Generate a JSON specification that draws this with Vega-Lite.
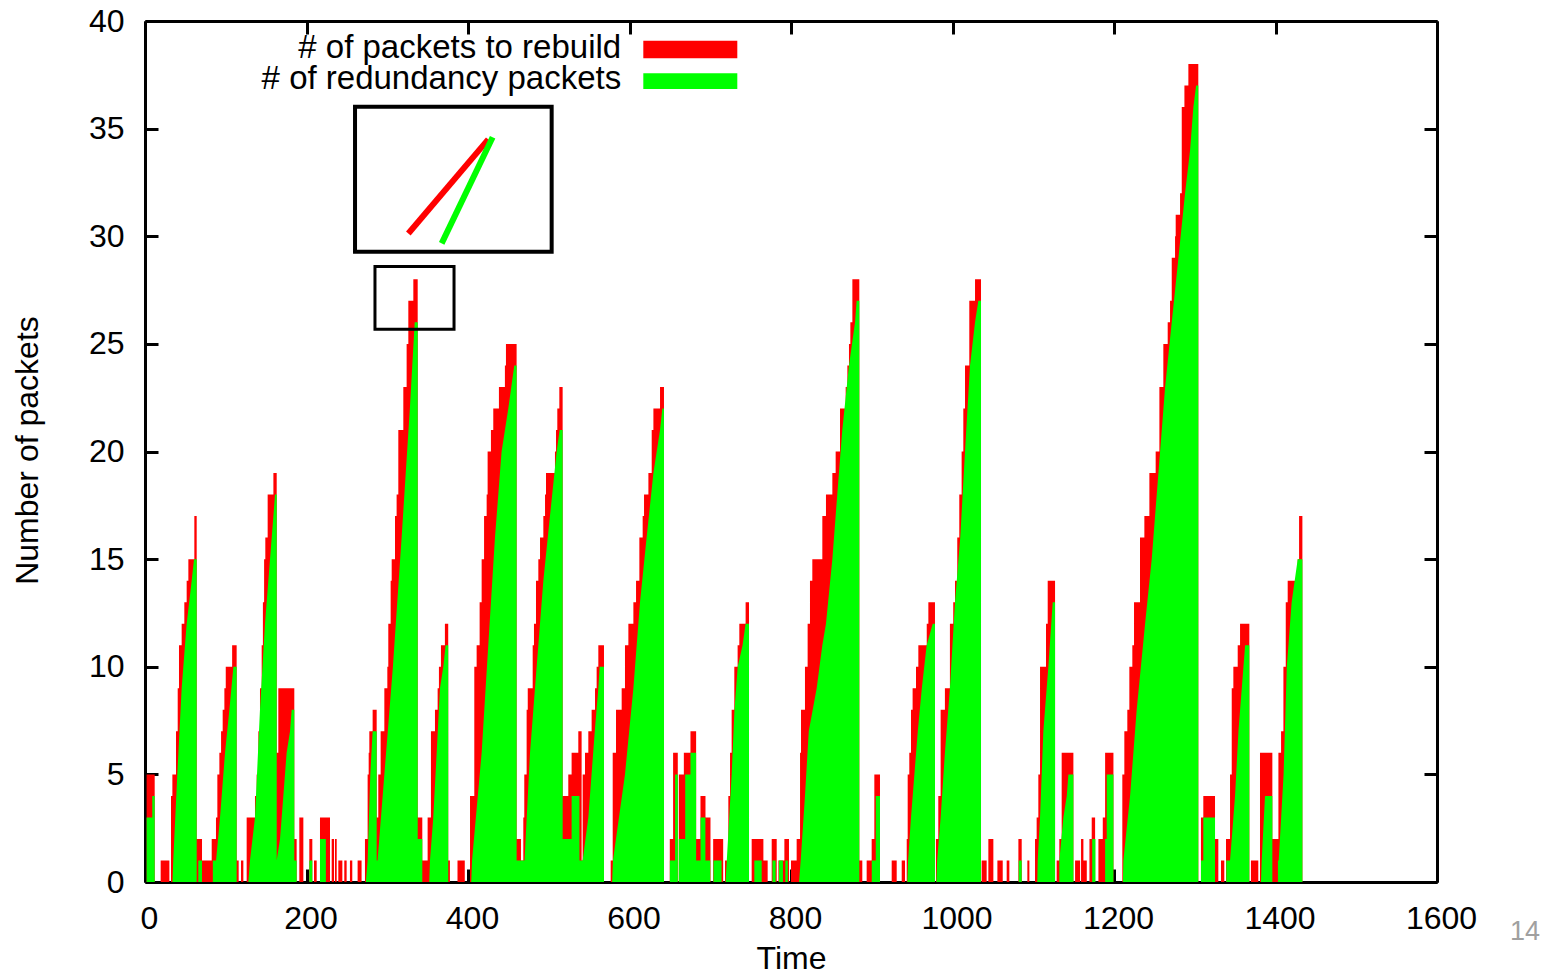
{
  "$schema": "https://vega.github.io/schema/vega-lite/v6.json",
  "width": 1292,
  "height": 861,
  "autosize": "none",
  "padding": {"left": 145, "top": 21, "right": 117, "bottom": 93},
  "background": "white",
  "config": {
    "view": {"stroke": null},
    "font": "Liberation Sans",
    "axis": {"grid": false, "domainColor": "black", "domainWidth": 3, "tickColor": "black", "tickWidth": 3, "tickSize": -13, "zindex": 1, "labelFont": "Liberation Sans", "labelFontSize": 32, "labelColor": "black", "titleFont": "Liberation Sans", "titleFontSize": 32, "titleFontWeight": "normal", "titleColor": "black", "labelFlush": false}
  },
  "datasets": {
    "rebuild": [
      {"t":0,"v":0},{"t":2,"v":5},{"t":12,"v":0},{"t":19.4,"v":1},{"t":30.2,"v":0},
      {"t":32.2,"v":4},{"t":33.9,"v":5},{"t":38.4,"v":7},{"t":40.5,"v":9},{"t":42.1,"v":11},{"t":45.4,"v":12},{"t":48.7,"v":13},{"t":51.6,"v":14},{"t":53.7,"v":15},{"t":61.1,"v":17},
      {"t":64,"v":2},{"t":70.6,"v":1},{"t":82.6,"v":2},
      {"t":87.9,"v":3},{"t":89.6,"v":5},{"t":92.1,"v":6},{"t":94.2,"v":7},{"t":96.2,"v":8},{"t":98.3,"v":9},{"t":100,"v":10},{"t":107.9,"v":11},{"t":113.5,"v":1},{"t":116,"v":0},{"t":118.9,"v":1},{"t":121.8,"v":0},
      {"t":125.9,"v":3},{"t":136.2,"v":4},{"t":138.3,"v":5},{"t":140.4,"v":7},{"t":142.4,"v":9},{"t":144.5,"v":11},{"t":146,"v":13},{"t":147.5,"v":15},{"t":149,"v":16},{"t":151.9,"v":18},{"t":159,"v":19},
      {"t":163.1,"v":6},{"t":165.1,"v":9},{"t":184.9,"v":2},{"t":187.8,"v":0},{"t":191.1,"v":3},{"t":196.1,"v":0},{"t":203.5,"v":2},{"t":207.2,"v":0},{"t":209.3,"v":1},{"t":212.6,"v":0},{"t":216.7,"v":3},{"t":229.1,"v":0},{"t":231.2,"v":2},{"t":234.1,"v":0},{"t":235.3,"v":2},{"t":237.4,"v":0},{"t":239.4,"v":1},{"t":244.4,"v":0},{"t":246.8,"v":1},{"t":249.7,"v":0},{"t":253.8,"v":1},{"t":256.7,"v":0},{"t":263.3,"v":1},{"t":268.2,"v":0},
      {"t":272.4,"v":2},{"t":275.7,"v":5},{"t":277,"v":6},{"t":277.8,"v":7},{"t":281.9,"v":8},
      {"t":286.9,"v":3},{"t":288.9,"v":5},{"t":291.8,"v":7},{"t":296.4,"v":9},{"t":300.1,"v":10},{"t":301.3,"v":12},{"t":304.2,"v":14},{"t":305.5,"v":15},{"t":309.6,"v":17},{"t":311.6,"v":18},{"t":313.7,"v":21},{"t":319.9,"v":23},{"t":324,"v":25},{"t":326.1,"v":27},{"t":332.3,"v":28},{"t":337.7,"v":3},{"t":343.4,"v":1},
      {"t":350,"v":3},{"t":354.1,"v":7},{"t":359.1,"v":8},{"t":362.4,"v":9},{"t":364,"v":10},{"t":366.5,"v":11},{"t":371.4,"v":12},{"t":375.5,"v":1},{"t":377.6,"v":0},{"t":387,"v":1},{"t":396,"v":0},
      {"t":402.5,"v":4},{"t":407.8,"v":10},{"t":410.7,"v":11},{"t":414.4,"v":13},{"t":416.9,"v":15},{"t":419.9,"v":17},{"t":423.1,"v":18},{"t":424.3,"v":20},{"t":428.4,"v":21},{"t":431.3,"v":22},{"t":438.3,"v":23},{"t":445.7,"v":24},{"t":447,"v":25},{"t":460.2,"v":2},{"t":465.6,"v":1},
      {"t":468.5,"v":3},{"t":469.7,"v":5},{"t":472.6,"v":8},{"t":474,"v":9},{"t":480.1,"v":11},{"t":481.7,"v":12},{"t":484.2,"v":14},{"t":487.1,"v":15},{"t":489.2,"v":16},{"t":493.3,"v":17},{"t":495.4,"v":18},{"t":496.6,"v":19},{"t":507.7,"v":20},{"t":509,"v":21},{"t":510.6,"v":22},{"t":513.1,"v":23},{"t":517.2,"v":4},{"t":524.2,"v":5},{"t":528.3,"v":6},{"t":536.6,"v":7},{"t":540.7,"v":1},
      {"t":542,"v":5},{"t":544.9,"v":6},{"t":549,"v":7},{"t":553.1,"v":8},{"t":557.3,"v":9},{"t":559.3,"v":10},{"t":561.4,"v":11},{"t":568.4,"v":0},
      {"t":576.7,"v":1},{"t":579.2,"v":6},{"t":583.3,"v":8},{"t":590.3,"v":9},{"t":594.4,"v":11},{"t":598.6,"v":12},{"t":604.8,"v":13},{"t":608.1,"v":14},{"t":612.2,"v":16},{"t":616.3,"v":17},{"t":618,"v":18},{"t":623.4,"v":19},{"t":627.5,"v":21},{"t":629.6,"v":22},{"t":637.8,"v":23},{"t":642.7,"v":0},
      {"t":649.9,"v":2},{"t":654,"v":6},{"t":659.8,"v":0},{"t":661.1,"v":5},{"t":667.3,"v":6},{"t":675.5,"v":7},{"t":682.5,"v":2},{"t":687.9,"v":4},{"t":694.1,"v":3},{"t":700.3,"v":0},{"t":703.6,"v":2},{"t":716,"v":0},
      {"t":718.3,"v":1},{"t":722.4,"v":4},{"t":724.5,"v":6},{"t":726.5,"v":8},{"t":729.8,"v":10},{"t":733.9,"v":11},{"t":736,"v":12},{"t":743.8,"v":13},{"t":748,"v":0},
      {"t":751.3,"v":2},{"t":765.8,"v":1},{"t":771.1,"v":0},{"t":776.1,"v":2},{"t":782.3,"v":0},{"t":784.4,"v":1},{"t":791.8,"v":2},{"t":797.5,"v":0},{"t":800,"v":1},{"t":807,"v":2},
      {"t":811.2,"v":6},{"t":812.4,"v":8},{"t":817.3,"v":10},{"t":820.6,"v":12},{"t":823.5,"v":14},{"t":826.4,"v":15},{"t":838.8,"v":17},{"t":843.3,"v":18},{"t":851.2,"v":19},{"t":855.3,"v":20},{"t":860.7,"v":22},{"t":867.7,"v":23},{"t":869.8,"v":24},{"t":871.8,"v":25},{"t":873.5,"v":26},{"t":876,"v":28},{"t":884.6,"v":1},{"t":888.3,"v":0},{"t":893.7,"v":1},{"t":899.9,"v":2},{"t":903.2,"v":5},{"t":910.2,"v":0},{"t":924.7,"v":1},{"t":930.9,"v":0},{"t":937.1,"v":1},{"t":941.2,"v":0},
      {"t":943.3,"v":2},{"t":944.5,"v":5},{"t":946.5,"v":6},{"t":948.6,"v":8},{"t":950.6,"v":9},{"t":954.8,"v":10},{"t":957.7,"v":11},{"t":968.1,"v":12},{"t":970.1,"v":13},{"t":978.3,"v":0},
      {"t":979.5,"v":2},{"t":982.4,"v":4},{"t":985.3,"v":8},{"t":990.6,"v":9},{"t":996.8,"v":12},{"t":1000.9,"v":13},{"t":1003.1,"v":14},{"t":1005.9,"v":16},{"t":1008.4,"v":18},{"t":1011.3,"v":20},{"t":1013.4,"v":22},{"t":1015.5,"v":24},{"t":1020.8,"v":27},{"t":1027.9,"v":28},{"t":1035.3,"v":0},{"t":1036.1,"v":1},{"t":1042.3,"v":0},{"t":1044.4,"v":2},{"t":1050.6,"v":0},{"t":1055.6,"v":1},{"t":1062.2,"v":0},{"t":1067.1,"v":1},{"t":1070.4,"v":0},{"t":1081.6,"v":2},{"t":1085.7,"v":0},{"t":1092.7,"v":1},{"t":1095.2,"v":0},{"t":1102.2,"v":2},
      {"t":1104.2,"v":3},{"t":1106.3,"v":5},{"t":1108.4,"v":10},{"t":1115.8,"v":12},{"t":1117.9,"v":14},{"t":1127,"v":0},{"t":1129,"v":1},{"t":1132.3,"v":2},{"t":1135.2,"v":6},{"t":1149.7,"v":0},{"t":1151.8,"v":1},{"t":1158,"v":0},{"t":1159.2,"v":2},{"t":1162.1,"v":1},{"t":1166.3,"v":0},{"t":1169.6,"v":2},{"t":1172.4,"v":3},{"t":1176.6,"v":0},{"t":1180.7,"v":2},{"t":1186.1,"v":3},{"t":1189,"v":6},{"t":1199.3,"v":0},
      {"t":1210.3,"v":5},{"t":1212.8,"v":7},{"t":1216.5,"v":8},{"t":1219,"v":10},{"t":1222.7,"v":11},{"t":1224.8,"v":13},{"t":1232.2,"v":16},{"t":1237.6,"v":17},{"t":1243.8,"v":19},{"t":1251.6,"v":20},{"t":1256.2,"v":23},{"t":1261.1,"v":25},{"t":1266.5,"v":26},{"t":1269.4,"v":27},{"t":1271.5,"v":29},{"t":1275.6,"v":30},{"t":1276.4,"v":31},{"t":1281.8,"v":32},{"t":1283.9,"v":36},{"t":1287.2,"v":37},{"t":1292.1,"v":38},{"t":1304.4,"v":0},{"t":1307.7,"v":3},{"t":1310.6,"v":4},{"t":1325.1,"v":2},{"t":1329.2,"v":0},{"t":1332.5,"v":1},{"t":1336.6,"v":0},
      {"t":1338.7,"v":2},{"t":1343.7,"v":5},{"t":1345.8,"v":9},{"t":1347.8,"v":10},{"t":1353.2,"v":11},{"t":1356.1,"v":12},{"t":1367.6,"v":0},{"t":1369.6,"v":1},{"t":1378.7,"v":0},{"t":1380.8,"v":6},{"t":1396.1,"v":2},
      {"t":1403.6,"v":6},{"t":1406.9,"v":7},{"t":1409.8,"v":10},{"t":1412.7,"v":13},{"t":1415.1,"v":14},{"t":1427.5,"v":15},{"t":1429.2,"v":17},{"t":1433.3,"v":0}
    ],
    "redund": [
      {"t":2,"v":0},{"t":2.01,"v":3},{"t":9,"v":3},{"t":9.01,"v":4},{"t":12,"v":4},{"t":12.01,"v":0},
      {"t":34,"v":0},{"t":35,"v":1},{"t":40,"v":5},{"t":45.4,"v":9},{"t":51.6,"v":12},{"t":57.8,"v":14},{"t":60.7,"v":15},{"t":64,"v":15},{"t":64.01,"v":0},{"t":66,"v":0},{"t":66.01,"v":1},{"t":70.6,"v":1},{"t":70.61,"v":0},
      {"t":84,"v":0},{"t":84.01,"v":1},{"t":88,"v":1},{"t":92.9,"v":3},{"t":99.1,"v":6},{"t":104.5,"v":8},{"t":109.5,"v":10},{"t":113.5,"v":10},{"t":113.51,"v":0},
      {"t":128,"v":0},{"t":130,"v":1},{"t":136.2,"v":3},{"t":142.4,"v":8},{"t":148.6,"v":12},{"t":154.8,"v":15},{"t":159,"v":17},{"t":161,"v":18},{"t":163.1,"v":18},{"t":163.11,"v":1},{"t":167.2,"v":2},{"t":171.3,"v":4},{"t":175.4,"v":6},{"t":179.6,"v":7},{"t":181.6,"v":8},{"t":184.9,"v":8},{"t":184.91,"v":1},{"t":187.8,"v":1},{"t":187.81,"v":0},
      {"t":203.5,"v":0},{"t":203.51,"v":1},{"t":207.2,"v":1},{"t":207.21,"v":0},{"t":216.7,"v":0},{"t":216.71,"v":2},{"t":224,"v":2},{"t":224.01,"v":0},
      {"t":273.5,"v":0},{"t":275.7,"v":1},{"t":279,"v":5},{"t":281.9,"v":7},{"t":286.9,"v":7},{"t":286.91,"v":1},{"t":288,"v":1},{"t":296,"v":4.8},{"t":307,"v":10},{"t":317.8,"v":16},{"t":328,"v":22},{"t":334,"v":26},{"t":337.7,"v":26},{"t":337.71,"v":2},{"t":343.4,"v":2},{"t":343.41,"v":0},
      {"t":352,"v":0},{"t":352.9,"v":1},{"t":357,"v":3},{"t":361.2,"v":6},{"t":365.3,"v":9},{"t":369.4,"v":10},{"t":372.3,"v":11},{"t":375.5,"v":11},{"t":375.51,"v":0},
      {"t":404,"v":0},{"t":405,"v":1},{"t":416.9,"v":6},{"t":425.1,"v":11},{"t":433.4,"v":16},{"t":441.6,"v":20},{"t":449.9,"v":22},{"t":457.3,"v":24},{"t":460.2,"v":24},{"t":460.21,"v":1},{"t":470,"v":1},{"t":476.8,"v":6},{"t":485,"v":10},{"t":493.3,"v":14},{"t":501.5,"v":17},{"t":509.8,"v":20},{"t":513.5,"v":21},{"t":517.2,"v":21},{"t":517.21,"v":2},{"t":528.3,"v":2},{"t":528.31,"v":4},{"t":538,"v":4},{"t":538.01,"v":1},{"t":542,"v":1},{"t":549,"v":3},{"t":553,"v":5},{"t":557,"v":7},{"t":561.4,"v":9},{"t":563,"v":10},{"t":568.4,"v":10},{"t":568.41,"v":0},
      {"t":578.5,"v":0},{"t":579.5,"v":1},{"t":594.4,"v":5},{"t":604.8,"v":9},{"t":613,"v":13},{"t":621.2,"v":16},{"t":629.6,"v":19},{"t":637.8,"v":21},{"t":640.7,"v":22},{"t":642.7,"v":22},{"t":642.71,"v":0},
      {"t":650,"v":0},{"t":650.01,"v":1},{"t":656.5,"v":1},{"t":656.51,"v":5},{"t":659.8,"v":5},{"t":659.81,"v":0},{"t":661,"v":0},{"t":661.01,"v":2},{"t":669,"v":2},{"t":669.01,"v":5},{"t":675.5,"v":5},{"t":675.51,"v":6},{"t":682.5,"v":6},{"t":682.51,"v":1},{"t":688,"v":1},{"t":688.01,"v":3},{"t":694,"v":3},{"t":694.01,"v":1},{"t":700,"v":1},{"t":700.01,"v":0},{"t":704,"v":0},{"t":704.01,"v":1},{"t":714,"v":1},{"t":714.01,"v":0},
      {"t":719,"v":0},{"t":720.5,"v":1},{"t":726.5,"v":5},{"t":730,"v":8},{"t":734,"v":10},{"t":740,"v":11},{"t":743.8,"v":12},{"t":748,"v":12},{"t":748.01,"v":0},
      {"t":754.6,"v":0},{"t":754.61,"v":1},{"t":763.7,"v":1},{"t":763.71,"v":0},{"t":777,"v":0},{"t":777.01,"v":1},{"t":781,"v":1},{"t":781.01,"v":0},{"t":785,"v":0},{"t":785.01,"v":1},{"t":790,"v":1},{"t":790.01,"v":0},{"t":793,"v":0},{"t":793.01,"v":1},{"t":796,"v":1},{"t":796.01,"v":0},
      {"t":810,"v":0},{"t":812,"v":1},{"t":817.3,"v":4},{"t":822,"v":7},{"t":831.8,"v":9},{"t":838.8,"v":11},{"t":843.3,"v":12},{"t":851.2,"v":15},{"t":857.3,"v":18},{"t":863.5,"v":21},{"t":871.8,"v":24},{"t":879.3,"v":26},{"t":881.3,"v":27},{"t":884.6,"v":27},{"t":884.61,"v":0},
      {"t":900,"v":0},{"t":900.01,"v":1},{"t":905,"v":1},{"t":905.01,"v":4},{"t":910.2,"v":4},{"t":910.21,"v":0},
      {"t":944,"v":0},{"t":945,"v":1},{"t":948.6,"v":3},{"t":957,"v":7},{"t":962,"v":9},{"t":968,"v":11},{"t":975.5,"v":12},{"t":978.3,"v":12},{"t":978.31,"v":0},
      {"t":980,"v":0},{"t":981,"v":1},{"t":985.3,"v":3},{"t":990.6,"v":6},{"t":996.8,"v":9},{"t":1003.1,"v":13},{"t":1009.6,"v":16},{"t":1015.5,"v":20},{"t":1021.7,"v":24},{"t":1027.9,"v":26},{"t":1032,"v":27},{"t":1035.3,"v":27},{"t":1035.31,"v":0},
      {"t":1082,"v":0},{"t":1082.01,"v":1},{"t":1085.7,"v":1},{"t":1085.71,"v":0},
      {"t":1105,"v":0},{"t":1105.5,"v":1},{"t":1108.4,"v":3},{"t":1112.5,"v":7},{"t":1118.7,"v":10},{"t":1124.1,"v":13},{"t":1127,"v":13},{"t":1127.01,"v":0},
      {"t":1132.3,"v":0},{"t":1132.31,"v":1},{"t":1137.3,"v":3},{"t":1141.5,"v":4},{"t":1143.5,"v":5},{"t":1149.7,"v":5},{"t":1149.71,"v":0},{"t":1173,"v":0},{"t":1173.01,"v":2},{"t":1177,"v":2},{"t":1177.01,"v":0},{"t":1189,"v":0},{"t":1189.01,"v":2},{"t":1191,"v":2},{"t":1191.01,"v":5},{"t":1199.3,"v":5},{"t":1199.31,"v":0},
      {"t":1211,"v":0},{"t":1211.6,"v":1},{"t":1219.9,"v":4},{"t":1228.1,"v":8},{"t":1238.5,"v":12},{"t":1246.7,"v":15},{"t":1255,"v":19},{"t":1263.3,"v":23},{"t":1271.5,"v":26},{"t":1279.8,"v":29},{"t":1288,"v":32},{"t":1294.2,"v":34},{"t":1298.3,"v":36},{"t":1301.7,"v":37},{"t":1304.4,"v":37},{"t":1304.41,"v":0},{"t":1307.7,"v":0},{"t":1307.71,"v":1},{"t":1310.6,"v":1},{"t":1310.61,"v":3},{"t":1325.1,"v":3},{"t":1325.11,"v":0},
      {"t":1339,"v":0},{"t":1339.01,"v":1},{"t":1343.7,"v":1},{"t":1349.9,"v":4},{"t":1354.1,"v":7},{"t":1360.3,"v":10},{"t":1362.4,"v":11},{"t":1367.6,"v":11},{"t":1367.61,"v":0},
      {"t":1382,"v":0},{"t":1382.9,"v":1},{"t":1387,"v":4},{"t":1396.1,"v":4},{"t":1396.11,"v":0},{"t":1403,"v":0},{"t":1403.01,"v":1},{"t":1404,"v":1},{"t":1410,"v":5},{"t":1414,"v":10},{"t":1420,"v":13},{"t":1427.5,"v":15},{"t":1433.3,"v":15},{"t":1433.31,"v":0}
    ],
    "boxes": [
      {"x1": 260.1, "x2": 503.6, "y1": 29.28, "y2": 36.02, "w": 4},
      {"x1": 284.8, "x2": 382.7, "y1": 25.68, "y2": 28.59, "w": 3}
    ],
    "inset": [
      {"s": "rebuild", "x1": 326.1, "y1": 30.13, "x2": 425.1, "y2": 34.5},
      {"s": "redund", "x1": 367.4, "y1": 29.67, "x2": 430.5, "y2": 34.6}
    ],
    "legend": [
      {"s": "rebuild", "label": "# of packets to rebuild", "tx": 589.7, "ty": 38.27, "x1": 617.1, "x2": 733.5, "y1": 38.27, "y2": 39.08},
      {"s": "redund", "label": "# of redundancy packets", "tx": 589.7, "ty": 36.83, "x1": 617.1, "x2": 733.5, "y1": 36.84, "y2": 37.57}
    ],
    "page": [{"label": "14", "x": 1709, "y": -2.69}]
  },
  "layer": [
    {
      "data": {"name": "rebuild"},
      "mark": {"type": "area", "interpolate": "step-after", "color": "#ff0000"},
      "encoding": {
        "x": {"field": "t", "type": "quantitative", "scale": {"domain": [0, 1600], "nice": false}, "axis": {"orient": "bottom", "values": [0, 200, 400, 600, 800, 1000, 1200, 1400, 1600], "format": "d", "title": "Time", "labelPadding": 34, "labelOffset": 4, "titleX": 646, "titleY": 86, "titleBaseline": "alphabetic", "titleAlign": "center", "titleAnchor": null}},
        "y": {"field": "v", "type": "quantitative", "stack": null, "scale": {"domain": [0, 40], "nice": false}, "axis": {"orient": "left", "values": [0, 5, 10, 15, 20, 25, 30, 35, 40], "title": "Number of packets", "labelPadding": 34, "titleX": -108, "titleY": 429, "titleAngle": -90, "titleBaseline": "alphabetic", "titleAlign": "center", "titleAnchor": null}}
      }
    },
    {
      "data": {"name": "redund"},
      "mark": {"type": "area", "interpolate": "linear", "color": "#00ff00"},
      "encoding": {
        "x": {"field": "t", "type": "quantitative", "axis": {"orient": "top", "values": [0, 200, 400, 600, 800, 1000, 1200, 1400, 1600], "labels": false, "title": null}},
        "y": {"field": "v", "type": "quantitative", "stack": null, "axis": {"orient": "right", "values": [0, 5, 10, 15, 20, 25, 30, 35, 40], "labels": false, "title": null}}
      }
    },
    {
      "data": {"name": "boxes"},
      "mark": {"type": "rect", "fillOpacity": 0, "stroke": "black"},
      "encoding": {
        "x": {"field": "x1", "type": "quantitative", "axis": null},
        "x2": {"field": "x2"},
        "y": {"field": "y1", "type": "quantitative", "axis": null},
        "y2": {"field": "y2"},
        "strokeWidth": {"field": "w", "type": "quantitative", "scale": null, "legend": null}
      }
    },
    {
      "data": {"name": "inset"},
      "mark": {"type": "rule", "strokeWidth": 6},
      "encoding": {
        "x": {"field": "x1", "type": "quantitative", "axis": null},
        "x2": {"field": "x2"},
        "y": {"field": "y1", "type": "quantitative", "axis": null},
        "y2": {"field": "y2"},
        "color": {"field": "s", "type": "nominal", "scale": {"domain": ["rebuild", "redund"], "range": ["#ff0000", "#00ff00"]}, "legend": null}
      }
    },
    {
      "data": {"name": "legend"},
      "mark": {"type": "rect"},
      "encoding": {
        "x": {"field": "x1", "type": "quantitative", "axis": null},
        "x2": {"field": "x2"},
        "y": {"field": "y1", "type": "quantitative", "axis": null},
        "y2": {"field": "y2"},
        "color": {"field": "s", "type": "nominal", "scale": {"domain": ["rebuild", "redund"], "range": ["#ff0000", "#00ff00"]}, "legend": null}
      }
    },
    {
      "data": {"name": "legend"},
      "mark": {"type": "text", "align": "right", "baseline": "alphabetic", "fontSize": 33, "font": "Liberation Sans", "color": "black"},
      "encoding": {
        "x": {"field": "tx", "type": "quantitative", "axis": null},
        "y": {"field": "ty", "type": "quantitative", "axis": null},
        "text": {"field": "label"}
      }
    },
    {
      "data": {"name": "page"},
      "mark": {"type": "text", "align": "center", "baseline": "alphabetic", "fontSize": 27, "font": "Liberation Sans", "color": "#a0a0a0"},
      "encoding": {
        "x": {"field": "x", "type": "quantitative", "axis": null},
        "y": {"field": "y", "type": "quantitative", "axis": null},
        "text": {"field": "label"}
      }
    }
  ],
  "resolve": {"axis": {"x": "independent", "y": "independent"}}
}
